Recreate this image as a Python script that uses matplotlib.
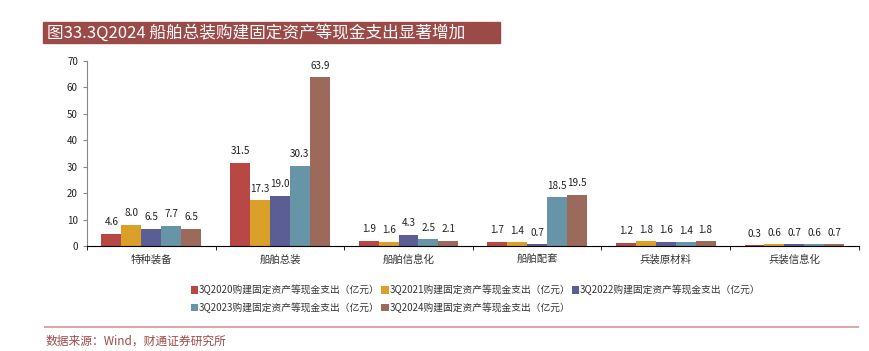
import numpy as np
import matplotlib.pyplot as plt
from matplotlib.patches import Rectangle

plt.rcParams['font.family'] = ['Noto Sans CJK SC', 'DejaVu Sans']

# Data
categories = ['特种装备', '船舶总装', '船舶信息化', '船舶配套', '兵装原材料', '兵装信息化']
series_names = ['3Q2020购建固定资产等现金支出（亿元）', '3Q2021购建固定资产等现金支出（亿元）',
                '3Q2022购建固定资产等现金支出（亿元）', '3Q2023购建固定资产等现金支出（亿元）',
                '3Q2024购建固定资产等现金支出（亿元）']
v2020 = [4.6, 31.5, 1.9, 1.7, 1.2, 0.3]
v2021 = [8.0, 17.3, 1.6, 1.4, 1.8, 0.6]
v2022 = [6.5, 19.0, 4.3, 0.7, 1.6, 0.7]
v2023 = [7.7, 30.3, 2.5, 18.5, 1.4, 0.6]
v2024 = [6.5, 63.9, 2.1, 19.5, 1.8, 0.7]
values = [v2020, v2021, v2022, v2023, v2024]
colors = ['#b84846', '#dba02a', '#5b5d95', '#6894a8', '#9c6a5b']

fig = plt.figure(figsize=(8.69, 3.51), dpi=100)
ax = fig.add_axes([0.1001, 0.299, 0.888, 0.527])

x = np.arange(len(categories))
bw = 0.155
for i, (vals, col, name) in enumerate(zip(values, colors, series_names)):
    pos = x + (i - 2) * bw
    ax.bar(pos, vals, bw, color=col, label=name, zorder=2)
    for p, v in zip(pos, vals):
        ax.text(p, v + 2.5, f'{v:.1f}', ha='center', va='bottom', fontsize=7.2, color='#222222')

ax.set_xlim(-0.5, len(categories) - 0.5)
ax.set_ylim(0, 70)
ax.set_yticks(np.arange(0, 71, 10))
ax.set_xticks(x)
ax.set_xticklabels(categories, fontsize=7.5, color='#333333')
ax.set_xticks(np.arange(-0.5, len(categories), 1), minor=True)
ax.tick_params(axis='x', which='major', length=0, pad=6)
ax.tick_params(axis='x', which='minor', length=3, direction='out')
ax.tick_params(axis='y', labelsize=7, length=3, color='#888888', labelcolor='#222222')
for s in ['top', 'right']:
    ax.spines[s].set_visible(False)
ax.spines['left'].set_color('#888888')
ax.spines['bottom'].set_color('black')

# legend filled row by row (3 per row)
handles, labels = ax.get_legend_handles_labels()
order = [0, 3, 1, 4, 2]
fig.legend([handles[k] for k in order], [labels[k] for k in order], loc='upper left',
           bbox_to_anchor=(186 / 869, 1 - 280 / 351), ncol=3, frameon=False, fontsize=7,
           labelcolor='#333333', handlelength=0.75, handleheight=0.75,
           handletextpad=0.1, columnspacing=0.15, labelspacing=0.75, borderpad=0)

# Title bar
fig.patches.append(Rectangle((43 / 869, 1 - 43 / 351), (500 - 43) / 869, 21 / 351,
                             transform=fig.transFigure, color='#9c4a47', zorder=0))
fig.text(47 / 869, 1 - 32.5 / 351, '图33.3Q2024 船舶总装购建固定资产等现金支出显著增加',
         fontsize=12, color='white', va='center', ha='left')

# Source line
fig.add_artist(plt.Line2D([45 / 869, 858 / 869], [1 - 327 / 351, 1 - 327 / 351],
                          transform=fig.transFigure, color='#d9a9a6', linewidth=1.5))
fig.text(46 / 869, 1 - 341 / 351, '数据来源：Wind，财通证券研究所', fontsize=8.5,
         color='#9c4a47', va='center', ha='left')

fig.savefig('out.png', dpi=100)
